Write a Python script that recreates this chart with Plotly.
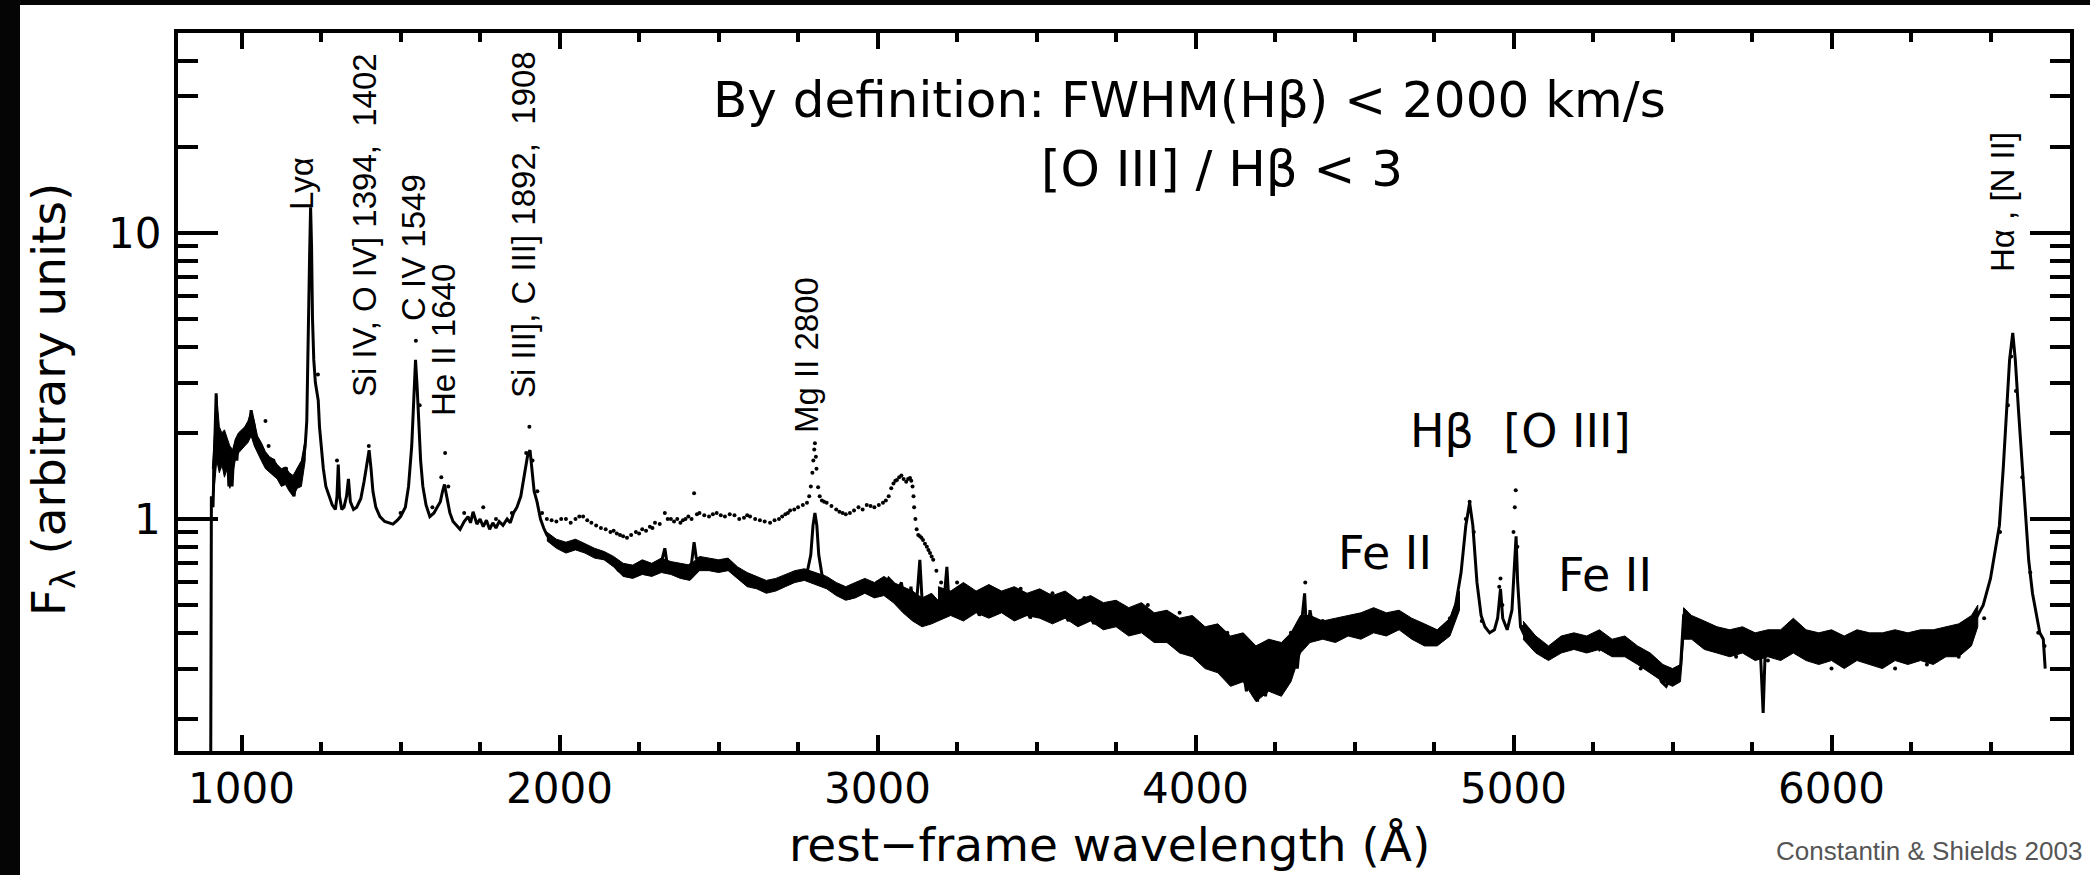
import plotly.graph_objects as go

# ---------------- data ----------------
wavelength_solid = [
    903, 905, 910, 915, 920, 924, 928, 932, 936, 940, 945, 950, 955, 960, 965, 970, 975, 980, 985, 990,
    995, 1000, 1005, 1010, 1015, 1020, 1025, 1030, 1035, 1040, 1045, 1050, 1060, 1070, 1080, 1090, 1100,
    1110, 1120, 1130, 1140, 1150, 1160, 1165, 1170, 1180, 1190, 1200, 1205, 1210, 1214, 1217, 1220, 1223,
    1227, 1232, 1237, 1241, 1245, 1250, 1257, 1265, 1275, 1285, 1295, 1300, 1304, 1308, 1315, 1322, 1330,
    1336, 1342, 1352, 1362, 1375, 1385, 1395, 1401, 1407, 1413, 1422, 1435, 1450, 1465, 1476, 1490, 1500,
    1515, 1525, 1535, 1542, 1547, 1552, 1557, 1563, 1570, 1580, 1592, 1605, 1615, 1625, 1632, 1638, 1645,
    1655, 1665, 1675, 1687, 1700, 1712, 1720, 1728, 1740, 1750, 1760, 1770, 1780, 1790, 1800, 1810, 1822,
    1835, 1845, 1855, 1866, 1878, 1888, 1895, 1900, 1907, 1913, 1920, 1929, 1940, 1950, 1960, 1970, 1985,
    2000, 2023, 2040, 2060, 2074, 2090, 2110, 2127, 2150, 2170, 2185, 2200, 2215, 2230, 2250, 2270, 2284,
    2300, 2315, 2331, 2338, 2350, 2369, 2380, 2388, 2400, 2415, 2423, 2430, 2442, 2460, 2480, 2500, 2520,
    2545, 2570, 2599, 2620, 2640, 2662, 2680, 2700, 2725, 2750, 2770, 2781, 2790, 2797, 2803, 2809, 2815,
    2825, 2840, 2860, 2872, 2890, 2913, 2930, 2950, 2966, 2985, 3000, 3020, 3035, 3048, 3060, 3075, 3085,
    3096, 3105, 3115, 3125, 3133, 3140, 3148, 3155, 3165, 3175, 3190, 3205, 3218, 3225, 3240, 3260, 3280,
    3300, 3320, 3340, 3360, 3380, 3400, 3420, 3440, 3460, 3480, 3501, 3520, 3540, 3560, 3580, 3600, 3620,
    3640, 3660, 3680, 3702, 3720, 3740, 3760, 3780, 3800, 3820, 3840, 3860, 3880, 3904, 3920, 3940, 3960,
    3980, 4004, 4020, 4040, 4060, 4080, 4105, 4120, 4140, 4160, 4180, 4195, 4205, 4220, 4240, 4255, 4270,
    4285, 4306, 4320, 4335, 4343, 4350, 4360, 4372, 4390, 4411, 4430, 4450, 4474, 4500, 4520, 4540, 4560,
    4580, 4600, 4620, 4640, 4660, 4680, 4700, 4721, 4740, 4760, 4780, 4800, 4818, 4835, 4850, 4862, 4872,
    4885, 4898, 4910, 4925, 4940, 4950, 4959, 4966, 4980, 4995, 5003, 5008, 5013, 5022, 5040, 5060, 5080,
    5100, 5111, 5130, 5150, 5170, 5190, 5211, 5230, 5250, 5270, 5290, 5312, 5330, 5350, 5370, 5390, 5413,
    5430, 5450, 5465, 5480, 5495, 5513, 5525, 5535, 5543, 5560, 5580, 5600, 5614, 5640, 5660, 5680, 5700,
    5720, 5740, 5760, 5775, 5785, 5792, 5815, 5840, 5860, 5878, 5890, 5910, 5930, 5950, 5970, 5990, 6025,
    6050, 6080, 6100, 6130, 6160, 6190, 6226, 6250, 6280, 6310, 6331, 6360, 6390, 6427, 6450, 6477, 6500,
    6515, 6528, 6540, 6550, 6560, 6570, 6578, 6588, 6599, 6610, 6620, 6632, 6645, 6655, 6666, 6672,
]
flux_solid = [
    0.15, 1.2, 1.1, 1.9, 2.75, 1.6, 2.0, 1.5, 1.9, 1.7, 2.0, 1.5, 1.8, 1.3, 1.6, 1.3, 1.7, 1.8, 1.6, 1.9,
    1.8, 2.0, 1.9, 2.05, 1.95, 2.15, 2.1, 2.4, 2.25, 2.1, 1.85, 1.9, 1.75, 1.7, 1.6, 1.55, 1.6,
    1.45, 1.5, 1.4, 1.45, 1.3, 1.35, 1.2, 1.35, 1.4, 1.5, 1.8, 2.2, 4.0, 8.5, 12.3, 9.0, 5.0,
    3.6, 3.0, 2.8, 2.6, 2.1, 1.8, 1.5, 1.3, 1.2, 1.12, 1.08, 1.2, 1.55, 1.2, 1.08, 1.1, 1.2,
    1.38, 1.15, 1.08, 1.1, 1.18, 1.35, 1.6, 1.74, 1.5, 1.25, 1.1, 1.02, 0.98, 0.97, 0.96, 0.99, 1.02,
    1.1, 1.3, 1.8, 2.8, 3.6, 2.9, 2.2, 1.6, 1.3, 1.12, 1.02, 1.05, 1.1, 1.15, 1.25, 1.32, 1.2,
    1.05, 0.98, 0.95, 0.92, 0.98, 1.02, 0.97, 1.06, 0.96, 1.0, 0.94, 0.99, 0.92, 0.97, 0.93, 0.98, 0.95,
    1.0, 0.97, 1.05, 1.1, 1.2, 1.4, 1.55, 1.68, 1.74, 1.45, 1.25, 1.15, 1.0, 0.93, 0.88, 0.85, 0.82,
    0.8, 0.78, 0.82, 0.79, 0.81, 0.77, 0.76, 0.74, 0.72, 0.7, 0.66, 0.65, 0.68, 0.64, 0.69, 0.66, 0.68,
    0.7, 0.67, 0.79, 0.7, 0.68, 0.68, 0.64, 0.63, 0.67, 0.7, 0.83, 0.73, 0.72, 0.7, 0.71, 0.69, 0.7,
    0.68, 0.64, 0.61, 0.6, 0.58, 0.565, 0.58, 0.6, 0.62, 0.63, 0.64, 0.67, 0.75, 0.95, 1.05, 0.95, 0.75,
    0.64, 0.6, 0.58, 0.565, 0.55, 0.53, 0.56, 0.58, 0.58, 0.56, 0.6, 0.57, 0.62, 0.6, 0.55, 0.6, 0.5,
    0.49, 0.58, 0.47, 0.55, 0.72, 0.52, 0.45, 0.44, 0.52, 0.46, 0.5, 0.46, 0.68, 0.5, 0.47, 0.53, 0.48,
    0.52, 0.46, 0.51, 0.47, 0.53, 0.48, 0.52, 0.47, 0.5, 0.45, 0.5, 0.46, 0.51, 0.45, 0.49, 0.44, 0.5,
    0.45, 0.48, 0.43, 0.49, 0.44, 0.47, 0.42, 0.46, 0.41, 0.47, 0.4, 0.45, 0.39, 0.44, 0.38, 0.43, 0.36,
    0.42, 0.34, 0.41, 0.32, 0.38, 0.3, 0.37, 0.27, 0.35, 0.25, 0.33, 0.23, 0.32, 0.24, 0.34, 0.26, 0.35,
    0.27, 0.36, 0.3, 0.45, 0.55, 0.38, 0.48, 0.4, 0.42, 0.4, 0.41, 0.43, 0.42, 0.44, 0.42, 0.45, 0.43,
    0.46, 0.44, 0.46, 0.42, 0.44, 0.4, 0.39, 0.38, 0.38, 0.39, 0.41, 0.44, 0.5, 0.65, 0.95, 1.14, 0.95,
    0.6, 0.46, 0.42, 0.4, 0.41, 0.45, 0.57, 0.45, 0.41, 0.48, 0.7, 0.87, 0.6, 0.42, 0.38, 0.37, 0.35,
    0.34, 0.33, 0.35, 0.37, 0.36, 0.38, 0.38, 0.36, 0.38, 0.35, 0.37, 0.36, 0.34, 0.36, 0.33, 0.34, 0.32,
    0.31, 0.3, 0.27, 0.26, 0.28, 0.29, 0.3, 0.46, 0.47, 0.42, 0.43, 0.4, 0.41, 0.38, 0.4, 0.37, 0.39,
    0.36, 0.38, 0.36, 0.37, 0.21, 0.36, 0.37, 0.38, 0.39, 0.44, 0.4, 0.37, 0.35, 0.37, 0.34, 0.36, 0.36,
    0.34, 0.37, 0.35, 0.38, 0.34, 0.37, 0.35, 0.37, 0.35, 0.38, 0.36, 0.38, 0.39, 0.4, 0.44, 0.5, 0.62,
    0.78, 0.95, 1.5, 2.3, 3.6, 4.47, 3.6, 2.4, 1.6, 1.0, 0.72, 0.55, 0.45, 0.4, 0.38, 0.3,
]

# spread (lower / upper envelope) of the dense noisy solid spectrum, per segment
band_wavelength = [
    [908, 915, 922, 930, 938, 946, 955, 963, 972, 980, 990, 1000, 1010, 1020, 1030, 1040, 1050, 1062,
     1075, 1088, 1100, 1112, 1125, 1138, 1150, 1162, 1175, 1188, 1200],
    [1960, 1990, 2020, 2050, 2080, 2110, 2140, 2170, 2200, 2230, 2260, 2290, 2320, 2350, 2380, 2410,
     2440, 2470, 2500, 2530, 2560, 2590, 2620, 2650, 2680, 2710, 2740, 2770, 2840, 2870, 2900, 2930,
     2960, 2990, 3020, 3050, 3080, 3110, 3140, 3170, 3190],
    [3190, 3230, 3270, 3310, 3350, 3390, 3430, 3470, 3510, 3550, 3590, 3630, 3670, 3710, 3750, 3790,
     3830, 3870, 3910, 3950, 3990, 4030, 4070, 4110, 4150, 4190, 4230, 4270, 4300, 4330, 4360, 4400,
     4440, 4480, 4520, 4560, 4600, 4640, 4680, 4720, 4760, 4800, 4830],
    [5030, 5070, 5110, 5150, 5190, 5230, 5270, 5310, 5350, 5390, 5430, 5470, 5500, 5525, 5535, 5560,
     5600, 5640, 5680, 5720, 5760, 5800, 5840, 5880, 5920, 5960, 6000, 6040, 6080, 6120, 6160, 6200,
     6240, 6280, 6320, 6360, 6400, 6440, 6460],
]
band_lower = [
    [1.1, 1.3, 1.6, 1.45, 1.55, 1.4, 1.5, 1.28, 1.45, 1.6, 1.7, 1.75, 1.8, 1.85, 1.95, 1.8, 1.7, 1.6,
     1.5, 1.45, 1.42, 1.38, 1.3, 1.32, 1.25, 1.2, 1.28, 1.3, 1.6],
    [0.84, 0.79, 0.76, 0.78, 0.76, 0.73, 0.72, 0.68, 0.63, 0.62, 0.64, 0.63, 0.65, 0.64, 0.62, 0.61,
     0.66, 0.66, 0.65, 0.66, 0.62, 0.58, 0.57, 0.55, 0.56, 0.58, 0.6, 0.61, 0.57, 0.54, 0.52, 0.53,
     0.55, 0.53, 0.54, 0.51, 0.47, 0.44, 0.42, 0.43, 0.44],
    [0.44, 0.46, 0.44, 0.47, 0.45, 0.47, 0.44, 0.46, 0.45, 0.43, 0.45, 0.42, 0.44, 0.41, 0.42, 0.39,
     0.4, 0.37, 0.37, 0.34, 0.33, 0.3, 0.29, 0.26, 0.27, 0.23, 0.25, 0.24, 0.27, 0.34, 0.37, 0.38,
     0.37, 0.39, 0.38, 0.4, 0.39, 0.41, 0.38, 0.36, 0.36, 0.39, 0.48],
    [0.38, 0.34, 0.32, 0.34, 0.35, 0.34, 0.35, 0.33, 0.33, 0.31, 0.29, 0.27, 0.26, 0.27, 0.38, 0.38,
     0.35, 0.34, 0.33, 0.34, 0.32, 0.33, 0.32, 0.34, 0.32, 0.31, 0.32, 0.3, 0.32, 0.31, 0.3, 0.32,
     0.31, 0.32, 0.31, 0.33, 0.33, 0.36, 0.42],
]
band_upper = [
    [1.5, 2.0, 2.7, 2.1, 2.0, 2.05, 1.9, 1.8, 1.75, 1.9, 2.0, 2.05, 2.1, 2.2, 2.4, 2.2, 1.95, 1.85,
     1.72, 1.65, 1.62, 1.55, 1.5, 1.52, 1.45, 1.42, 1.5, 1.6, 1.9],
    [0.9, 0.85, 0.83, 0.85, 0.82, 0.79, 0.77, 0.74, 0.7, 0.69, 0.72, 0.7, 0.73, 0.71, 0.7, 0.69,
     0.74, 0.73, 0.72, 0.73, 0.68, 0.65, 0.63, 0.61, 0.62, 0.64, 0.66, 0.67, 0.63, 0.6, 0.58, 0.6,
     0.62, 0.6, 0.63, 0.6, 0.58, 0.56, 0.53, 0.55, 0.52],
    [0.58, 0.56, 0.6, 0.56, 0.59, 0.56, 0.58, 0.55, 0.57, 0.54, 0.56, 0.52, 0.54, 0.51, 0.52, 0.49,
     0.51, 0.47, 0.48, 0.45, 0.46, 0.42, 0.43, 0.39, 0.4, 0.36, 0.38, 0.37, 0.4, 0.46, 0.46, 0.44,
     0.45, 0.46, 0.47, 0.49, 0.47, 0.48, 0.45, 0.43, 0.41, 0.45, 0.56],
    [0.44, 0.39, 0.36, 0.39, 0.4, 0.39, 0.41, 0.38, 0.39, 0.36, 0.34, 0.31, 0.3, 0.31, 0.49, 0.46,
     0.44, 0.42, 0.41, 0.42, 0.4, 0.41, 0.41, 0.45, 0.41, 0.4, 0.41, 0.39, 0.41, 0.4, 0.4, 0.41,
     0.4, 0.41, 0.41, 0.42, 0.43, 0.46, 0.5],
]

wavelength_dotted = [
    1075, 1085, 1100, 1140, 1180, 1240, 1300, 1400, 1500, 1548, 1560, 1600, 1628, 1640, 1650, 1700, 1760,
    1800, 1850, 1895, 1905, 1915, 1930, 1945,
    1960, 1975, 1990, 2005, 2020, 2035, 2050, 2062, 2074, 2087, 2100, 2115, 2130, 2145, 2160, 2170, 2180,
    2190, 2200, 2212, 2225, 2240, 2250, 2260, 2272, 2284, 2292, 2300, 2315, 2331, 2340, 2350, 2360, 2370,
    2380, 2388, 2396, 2405, 2415, 2423, 2432, 2440, 2455, 2470, 2482, 2494, 2507, 2520, 2535, 2550, 2565,
    2580, 2590, 2599, 2615, 2630, 2645, 2662, 2676, 2690, 2700, 2710, 2718, 2725, 2738, 2750, 2765, 2778,
    2785, 2790, 2795, 2798, 2801, 2803, 2806, 2808, 2813, 2818, 2825, 2832, 2840, 2855, 2870, 2880, 2890,
    2900, 2913, 2926, 2940, 2953, 2966, 2978, 2990, 3004, 3017, 3026, 3035, 3043, 3050, 3056, 3061, 3068,
    3075, 3082, 3090, 3096, 3102, 3106, 3110, 3113, 3115, 3119, 3123, 3128, 3133, 3138, 3143, 3149, 3155,
    3160, 3165, 3170, 3175, 3185, 3200,
    3250, 3350, 3450, 3550, 3650, 3750, 3850, 3950, 4000, 4100, 4200, 4300, 4345, 4400,
    4500, 4600, 4700, 4800, 4850, 4862, 4875, 4900, 4955, 4959, 4965, 5000, 5004, 5007, 5012, 5030, 5100,
    5200, 5300, 5400, 5500, 5540, 5600, 5700, 5800, 5900, 6000, 6100, 6200, 6300, 6400, 6480, 6530, 6555,
    6565, 6580, 6600, 6625, 6650, 6670,
]
flux_dotted = [
    2.2, 1.8, 1.6, 1.5, 1.5, 3.2, 1.6, 1.8, 1.05, 4.2, 2.5, 1.1, 1.4, 1.7, 1.3, 1.05, 1.1,
    1.0, 1.05, 1.7, 2.1, 1.6, 1.25, 1.05,
    1.0, 0.99, 0.98, 1.0, 1.0, 0.97, 1.0, 1.02, 1.02, 0.99, 0.97, 0.95, 0.93, 0.92, 0.9, 0.91, 0.89,
    0.88, 0.87, 0.86, 0.88, 0.9, 0.89, 0.92, 0.91, 0.94, 0.93, 0.97, 0.96, 1.05, 1.0, 1.0, 0.98, 1.0,
    0.97, 0.99, 1.0, 1.02, 1.0, 1.23, 1.04, 1.05, 1.03, 1.02, 1.04, 1.05, 1.03, 1.02, 1.04, 1.03, 1.0,
    1.01, 1.03, 1.02, 1.0, 0.99, 0.98, 0.97, 0.99, 1.0, 1.02, 1.04, 1.05, 1.07, 1.08, 1.1, 1.12, 1.14,
    1.2, 1.3, 1.45, 1.6, 1.75, 1.84, 1.65, 1.5, 1.29, 1.2, 1.16, 1.15, 1.14, 1.11, 1.08, 1.06, 1.05,
    1.04, 1.05, 1.07, 1.1, 1.08, 1.12, 1.11, 1.1, 1.12, 1.14, 1.16, 1.2, 1.28, 1.33, 1.36, 1.37, 1.4,
    1.42, 1.38, 1.35, 1.38, 1.39, 1.36, 1.3, 1.2, 1.1, 1.0, 0.92, 0.88, 0.87, 0.86, 0.845, 0.82, 0.8,
    0.78, 0.76, 0.74, 0.72, 0.66, 0.6,
    0.6, 0.58, 0.57, 0.55, 0.53, 0.51, 0.5, 0.47, 0.42, 0.4, 0.36, 0.4, 0.6, 0.44,
    0.45, 0.46, 0.41, 0.45, 1.0, 1.15, 0.9, 0.44, 0.58, 0.62, 0.5, 0.9, 1.1, 1.26, 0.8, 0.42, 0.33,
    0.36, 0.34, 0.3, 0.27, 0.42, 0.36, 0.33, 0.32, 0.34, 0.3, 0.32, 0.3, 0.31, 0.33, 0.45, 0.9, 2.5,
    3.7, 2.8, 1.4, 0.65, 0.4, 0.36,
]

x_major_ticks = [1000, 2000, 3000, 4000, 5000, 6000]
x_minor_ticks = [w for w in range(1000, 6751, 250) if w % 1000 != 0]
y_major_ticks = [1, 10]
y_major_labels = ["1", "10"]
y_minor_ticks = [0.2, 0.3, 0.4, 0.5, 0.6, 0.7, 0.8, 0.9, 2, 3, 4, 5, 6, 7, 8, 9, 20, 30, 40]

line_labels = ["Lyα", "Si IV, O IV] 1394,  1402", "C IV 1549", "He II 1640",
               "Si III], C III] 1892,  1908", "Mg II 2800", "Hα , [N II]"]

# ---------------- figure ----------------
W, H = 2090, 875
L, R, T, B = 178, 20, 33, 124
pw, ph = W - L - R, H - T - B


def px(x):
    return (x - L) / pw


def py(y):
    return (H - B - y) / ph


fig = go.Figure()
for bw, bl, bu in zip(band_wavelength, band_lower, band_upper):
    fig.add_trace(go.Scatter(x=bw + bw[::-1], y=bu + bl[::-1], mode="lines", fill="toself",
                             fillcolor="black", line=dict(color="black", width=1),
                             hoverinfo="skip", showlegend=False))
fig.add_trace(go.Scatter(x=wavelength_dotted, y=flux_dotted, mode="markers",
                         marker=dict(color="black", size=4), showlegend=False))
fig.add_trace(go.Scatter(x=wavelength_solid, y=flux_solid, mode="lines",
                         line=dict(color="black", width=3), showlegend=False))

big_font = "'DejaVu Sans', Lato, sans-serif"
small_font = "'Liberation Sans', Arial, sans-serif"

annotations = []
label_pos = [(301, 184), (365, 225), (413, 248), (443, 340), (524, 225), (806, 355), (2002, 202)]
for txt, (lx, ly) in zip(line_labels, label_pos):
    annotations.append(dict(x=px(lx), y=py(ly), xref="paper", yref="paper", text=txt,
                            textangle=-90, showarrow=False, xanchor="center", yanchor="middle",
                            font=dict(family=small_font, size=33, color="black")))

# tick labels placed as text at the tick values
for v in x_major_ticks:
    annotations.append(dict(x=v, y=py(788), xref="x", yref="paper", text=str(v), showarrow=False,
                            xanchor="center", yanchor="middle",
                            font=dict(family=big_font, size=42, color="black")))
y_label_px = [147, 134]
y_label_py = [519, 233]
for lab, lx, ly in zip(y_major_labels, y_label_px, y_label_py):
    annotations.append(dict(x=px(lx), y=py(ly), xref="paper", yref="paper", text=lab,
                            showarrow=False, xanchor="center", yanchor="middle",
                            font=dict(family=big_font, size=42, color="black")))

extra = [
    dict(x=px(1189), y=py(100), text="By definition: FWHM(Hβ) &lt; 2000 km/s",
         font=dict(family=big_font, size=50, color="black")),
    dict(x=px(1222), y=py(169), text="[O III] / Hβ &lt; 3",
         font=dict(family=big_font, size=50, color="black")),
    dict(x=px(1520), y=py(431), text="Hβ  [O III]",
         font=dict(family=big_font, size=46, color="black")),
    dict(x=px(1385), y=py(553), text="Fe II",
         font=dict(family=big_font, size=46, color="black")),
    dict(x=px(1605), y=py(575), text="Fe II",
         font=dict(family=big_font, size=46, color="black")),
    dict(x=px(1109), y=py(844), text="rest−frame wavelength (Å)",
         font=dict(family=big_font, size=47, color="black")),
    dict(x=px(52), y=py(400), text="F<sub>λ</sub> (arbitrary units)", textangle=-90,
         font=dict(family=big_font, size=47, color="black")),
    dict(x=px(2084), y=py(851), text="Constantin &amp; Shields 2003", xanchor="right",
         font=dict(family=small_font, size=26, color="#555555")),
]
for a in extra:
    a.setdefault("xref", "paper")
    a.setdefault("yref", "paper")
    a.setdefault("showarrow", False)
    a.setdefault("xanchor", "center")
    a.setdefault("yanchor", "middle")
annotations += extra

shapes = [
    dict(type="rect", xref="paper", yref="paper", x0=px(0), x1=px(20), y0=py(875), y1=py(0),
         fillcolor="#050505", line=dict(width=0), layer="above"),
    dict(type="rect", xref="paper", yref="paper", x0=px(0), x1=px(2090), y0=py(5), y1=py(0),
         fillcolor="#050505", line=dict(width=0), layer="above"),
]

fig.update_layout(
    width=W, height=H,
    margin=dict(l=L, r=R, t=T, b=B, pad=0),
    paper_bgcolor="white", plot_bgcolor="white",
    annotations=annotations, shapes=shapes,
    showlegend=False, hovermode=False,
)
fig.update_xaxes(
    range=[800, 6750], showgrid=False, zeroline=False,
    showline=True, linecolor="black", linewidth=4, mirror="ticks",
    ticks="inside", ticklen=16, tickwidth=4, tickcolor="black",
    tickvals=x_major_ticks, showticklabels=False,
    minor=dict(ticks="inside", ticklen=9, tickwidth=4, tickcolor="black", tickvals=x_minor_ticks,
               showgrid=False),
)
fig.update_yaxes(
    type="log", range=[-0.811, 1.699], showgrid=False, zeroline=False,
    showline=True, linecolor="black", linewidth=4, mirror="ticks",
    ticks="inside", ticklen=40, tickwidth=4, tickcolor="black",
    tickvals=y_major_ticks, showticklabels=False,
    minor=dict(ticks="inside", ticklen=20, tickwidth=4, tickcolor="black", tickvals=y_minor_ticks,
               showgrid=False),
)

fig.write_html("out.html", config={"displayModeBar": False},
               post_script="document.body.style.margin='0px';")
